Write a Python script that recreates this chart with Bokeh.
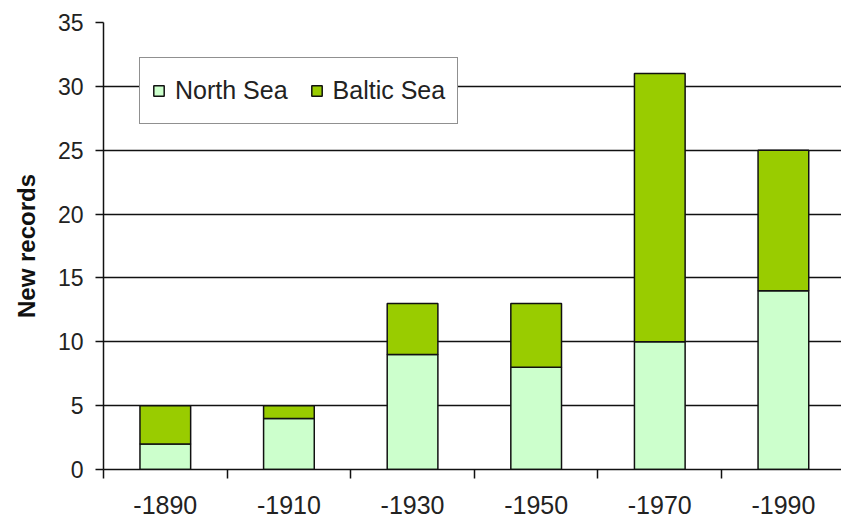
from bokeh.plotting import figure
from bokeh.models import Range1d, FixedTicker, ColumnDataSource, Legend
from bokeh.embed import file_html
from bokeh.resources import INLINE

categories = ["-1890", "-1910", "-1930", "-1950", "-1970", "-1990"]
north_sea = [2, 4, 9, 8, 10, 14]
baltic_sea = [3, 1, 4, 5, 21, 11]
y_ticks = [0, 5, 10, 15, 20, 25, 30, 35]

xs = [i + 0.5 for i in range(len(categories))]
src = ColumnDataSource(dict(x=xs, north=north_sea, baltic=baltic_sea))

FONT = "Liberation Sans"

p = figure(width=841, height=519, output_backend="svg", toolbar_location=None,
           x_range=Range1d(0, 5.97), y_range=Range1d(0, 35),
           min_border_left=103, min_border_right=0, min_border_top=22, min_border_bottom=50)
p.outline_line_color = None
p.background_fill_color = "white"
p.border_fill_color = "white"

renderers = p.vbar_stack(["north", "baltic"], x="x", width=0.41, source=src,
                         fill_color=["#CCFFCC", "#99CC00"], line_color="#111111",
                         line_width=1.5)

# x axis: labels at category centres, ticks between categories
p.xaxis.ticker = FixedTicker(ticks=xs, minor_ticks=list(range(len(categories) + 1)))
p.xaxis.major_label_overrides = {x: c for x, c in zip(xs, categories)}
p.xaxis.major_tick_out = 0
p.xaxis.major_tick_in = 0
p.xaxis.minor_tick_out = 9
p.xaxis.minor_tick_in = 0
p.xaxis.minor_tick_line_color = "#111111"
p.xaxis.minor_tick_line_width = 1.5
p.xaxis.axis_line_color = "#111111"
p.xaxis.axis_line_width = 1.5
p.xaxis.major_label_text_font = FONT
p.xaxis.major_label_text_font_size = "25px"
p.xaxis.major_label_text_color = "#222222"
p.xaxis.major_label_standoff = 17

# y axis
p.yaxis.ticker = FixedTicker(ticks=y_ticks)
p.yaxis.minor_tick_line_color = None
p.yaxis.major_tick_out = 8
p.yaxis.major_tick_in = 0
p.yaxis.major_tick_line_color = "#111111"
p.yaxis.major_tick_line_width = 1.5
p.yaxis.axis_line_color = "#111111"
p.yaxis.axis_line_width = 1.5
p.yaxis.major_label_text_font = FONT
p.yaxis.major_label_text_font_size = "23px"
p.yaxis.major_label_text_color = "#222222"
p.yaxis.major_label_standoff = 12
p.yaxis.axis_label = "New records"
p.yaxis.axis_label_text_font = FONT
p.yaxis.axis_label_text_font_size = "24px"
p.yaxis.axis_label_text_font_style = "bold"
p.yaxis.axis_label_text_color = "#111111"
p.yaxis.axis_label_standoff = 15

p.xgrid.grid_line_color = None
p.ygrid.ticker = FixedTicker(ticks=y_ticks)
p.ygrid.grid_line_color = "#111111"
p.ygrid.grid_line_width = 1.5

legend = Legend(items=[("North Sea", [renderers[0]]), ("Baltic Sea", [renderers[1]])],
                orientation="horizontal", location=(36, 345))
legend.label_text_font = FONT
legend.label_text_font_size = "25px"
legend.label_text_color = "#222222"
legend.glyph_width = 13
legend.glyph_height = 13
legend.label_standoff = 10
legend.label_height = 41
legend.spacing = 22
legend.padding = 12
legend.margin = 0
legend.border_line_color = "#222222"
legend.border_line_width = 1.5
legend.background_fill_alpha = 1.0
p.add_layout(legend, "center")

open("out.html", "w").write(file_html(p, INLINE))
